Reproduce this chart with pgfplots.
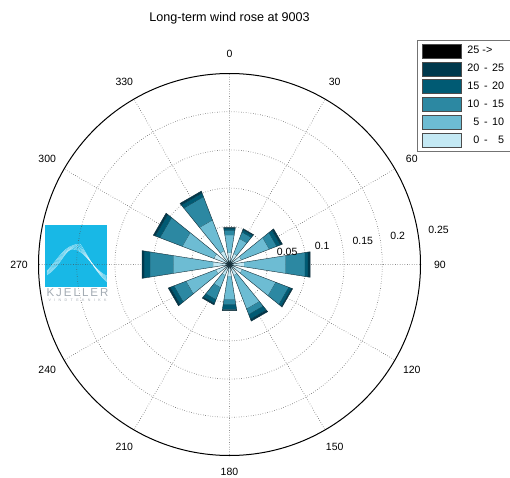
\documentclass[border=0pt]{standalone}
\usepackage{fontspec}
\setmainfont{Liberation Sans}
\usepackage{pgfplots}
\pgfplotsset{compat=1.18}
\usepgfplotslibrary{polar}
\definecolor{cA}{HTML}{000000}
\definecolor{cB}{HTML}{00394D}
\definecolor{cC}{HTML}{005A73}
\definecolor{cD}{HTML}{2C88A2}
\definecolor{cE}{HTML}{6DBCD3}
\definecolor{cF}{HTML}{C4E9F4}
\definecolor{edge}{HTML}{14303A}
\definecolor{logo}{HTML}{18B8E6}
\definecolor{logotext}{HTML}{A3ABB3}
\newcommand\lbl{\fontsize{10.5}{12}\selectfont}
\newcommand\lgsp{\hspace{0.42em}}
\begin{document}
\begin{tikzpicture}[x=1pt,y=1pt]
\useasboundingbox (0,0) rectangle (510,477);
\clip (0,0) rectangle (510,477);
% logo
\fill[logo] (45,190) rectangle (107,252);
\foreach \k in {0,2,4,6,8,10}{
  \draw[white, line width=0.35pt, opacity=0.7] (47,202+0.4*\k) .. controls (60,210+\k) and (64,226+0.6*\k) .. (72+0.8*\k,228+0.5*\k) .. controls (84,229) and (94,206) .. (107,201-0.6*\k);
}
\node[text=logotext, inner sep=0pt] at (77.5,184.5) {\fontsize{11.5}{12}\selectfont\makebox[62pt][s]{K\hfil J\hfil E\hfil L\hfil L\hfil E\hfil R}};
\node[text=logotext, inner sep=0pt] at (77.5,176.5) {\fontsize{3.6}{4}\selectfont\makebox[58pt][s]{V\hfil I\hfil N\hfil D\hfil T\hfil E\hfil K\hfil N\hfil I\hfil K\hfil K}};
% title
\node[inner sep=0pt] at (229.5,459) {\fontsize{12.6}{14}\selectfont Long-term wind rose at 9003};
\begin{polaraxis}[
  at={(229.5pt,212.5pt)}, anchor=center,
  width=382pt, height=382pt, scale only axis,
  xmin=0, xmax=360, ymin=0, ymax=0.25,
  xtick={0,30,...,330}, xticklabel=\empty,
  ytick={0.05,0.1,0.15,0.2}, yticklabel=\empty,
  major tick length=0pt,
  grid=major,
  major grid style={dotted, black!70, line width=0.7pt},
  separate axis lines,
  x axis line style={black, line width=1pt},
  y axis line style={draw=none},
  clip=false, no markers,
  unbounded coords=jump,
  legend style={at={(0.99,1.088)}, anchor=north west, draw=black!55, line width=0.6pt,
    fill=white, font=\fontsize{10.8}{12}\selectfont, row sep=3.4pt, inner xsep=5pt, inner ysep=3.5pt,
    /tikz/every odd column/.append style={column sep=4pt}},
  legend cell align=left,
  legend image code/.code={\draw[#1, draw=black!70, line width=0.5pt] (0pt,-7pt) rectangle (39pt,7pt);},
  every axis plot/.append style={draw=edge, line width=0.4pt},
]
\addlegendimage{fill=cA}\addlegendentry{25 ->}
\addlegendimage{fill=cB}\addlegendentry{20\lgsp-\lgsp25}
\addlegendimage{fill=cC}\addlegendentry{15\lgsp-\lgsp20}
\addlegendimage{fill=cD}\addlegendentry{10\lgsp-\lgsp15}
\addlegendimage{fill=cE}\addlegendentry{\phantom{0}5\lgsp-\lgsp10}
\addlegendimage{fill=cF}\addlegendentry{\phantom{0}0\lgsp-\lgsp\phantom{0}5}
% 0-5
\addplot[fill=cF, forget plot] coordinates {
(81,0) (81,0.0156) (99,0.0156) (99,0) (0,nan)
(51,0) (51,0.0156) (69,0.0156) (69,0) (0,nan)
(21,0) (21,0.0169) (39,0.0169) (39,0) (0,nan)
(351,0) (351,0.0195) (9,0.0195) (9,0) (0,nan)
(321,0) (321,0.0182) (339,0.0182) (339,0) (0,nan)
(291,0) (291,0.0156) (309,0.0156) (309,0) (0,nan)
(261,0) (261,0.0156) (279,0.0156) (279,0) (0,nan)
(231,0) (231,0.0156) (249,0.0156) (249,0) (0,nan)
(201,0) (201,0.0195) (219,0.0195) (219,0) (0,nan)
(171,0) (171,0.0221) (189,0.0221) (189,0) (0,nan)
(141,0) (141,0.0221) (159,0.0221) (159,0) (0,nan)
(111,0) (111,0.0195) (129,0.0195) (129,0)
};
% 5-10
\addplot[fill=cE, forget plot] coordinates {
(81,0.0156) (81,0.0391) (99,0.0391) (99,0.0156) (0,nan)
(51,0.0156) (51,0.0365) (69,0.0365) (69,0.0156) (0,nan)
(21,0.0169) (21,0.0560) (39,0.0560) (39,0.0169) (0,nan)
(351,0.0195) (351,0.0742) (9,0.0742) (9,0.0195) (0,nan)
(321,0.0182) (321,0.0651) (339,0.0651) (339,0.0182) (0,nan)
(291,0.0156) (291,0.0625) (309,0.0625) (309,0.0156) (0,nan)
(261,0.0156) (261,0.0469) (279,0.0469) (279,0.0156) (0,nan)
(231,0.0156) (231,0.0326) (249,0.0326) (249,0.0156) (0,nan)
(201,0.0195) (201,0.0612) (219,0.0612) (219,0.0195) (0,nan)
(171,0.0221) (171,0.0742) (189,0.0742) (189,0.0221) (0,nan)
(141,0.0221) (141,0.0664) (159,0.0664) (159,0.0221) (0,nan)
(111,0.0195) (111,0.0625) (129,0.0625) (129,0.0195)
};
% 10-15
\addplot[fill=cD, forget plot] coordinates {
(81,0.0391) (81,0.0456) (99,0.0456) (99,0.0391) (0,nan)
(51,0.0365) (51,0.0456) (69,0.0456) (69,0.0365) (0,nan)
(21,0.0560) (21,0.0664) (39,0.0664) (39,0.0560) (0,nan)
(351,0.0742) (351,0.1003) (9,0.1003) (9,0.0742) (0,nan)
(321,0.0651) (321,0.0833) (339,0.0833) (339,0.0651) (0,nan)
(291,0.0625) (291,0.0703) (309,0.0703) (309,0.0625) (0,nan)
(261,0.0469) (261,0.0534) (279,0.0534) (279,0.0469) (0,nan)
(231,0.0326) (231,0.0495) (249,0.0495) (249,0.0326) (0,nan)
(201,0.0612) (201,0.0781) (219,0.0781) (219,0.0612) (0,nan)
(171,0.0742) (171,0.1055) (189,0.1055) (189,0.0742) (0,nan)
(141,0.0664) (141,0.0977) (159,0.0977) (159,0.0664) (0,nan)
(111,0.0625) (111,0.0951) (129,0.0951) (129,0.0625)
};
% 15-20
\addplot[fill=cC, forget plot] coordinates {
(81,0.0456) (81,0.0482) (99,0.0482) (99,0.0456) (0,nan)
(51,0.0456) (51,0.0488) (69,0.0488) (69,0.0456) (0,nan)
(21,0.0664) (21,0.0716) (39,0.0716) (39,0.0664) (0,nan)
(351,0.1003) (351,0.1042) (9,0.1042) (9,0.1003) (0,nan)
(321,0.0833) (321,0.0872) (339,0.0872) (339,0.0833) (0,nan)
(291,0.0703) (291,0.0768) (309,0.0768) (309,0.0703) (0,nan)
(261,0.0534) (261,0.0599) (279,0.0599) (279,0.0534) (0,nan)
(231,0.0495) (231,0.0547) (249,0.0547) (249,0.0495) (0,nan)
(201,0.0781) (201,0.0833) (219,0.0833) (219,0.0781) (0,nan)
(171,0.1055) (171,0.1133) (189,0.1133) (189,0.1055) (0,nan)
(141,0.0977) (141,0.1042) (159,0.1042) (159,0.0977) (0,nan)
(111,0.0951) (111,0.1003) (129,0.1003) (129,0.0951)
};
% 20-25
\addplot[fill=cB, forget plot] coordinates {
(81,0.0482) (81,0.0488) (99,0.0488) (99,0.0482) (0,nan)
(51,0.0488) (51,0.0501) (69,0.0501) (69,0.0488) (0,nan)
(21,0.0716) (21,0.0742) (39,0.0742) (39,0.0716) (0,nan)
(351,0.1042) (351,0.1068) (9,0.1068) (9,0.1042) (0,nan)
(321,0.0872) (321,0.0885) (339,0.0885) (339,0.0872) (0,nan)
(291,0.0768) (291,0.0794) (309,0.0794) (309,0.0768) (0,nan)
(261,0.0599) (261,0.0612) (279,0.0612) (279,0.0599) (0,nan)
(231,0.0547) (231,0.0566) (249,0.0566) (249,0.0547) (0,nan)
(201,0.0833) (201,0.0859) (219,0.0859) (219,0.0833) (0,nan)
(171,0.1133) (171,0.1159) (189,0.1159) (189,0.1133) (0,nan)
(141,0.1042) (141,0.1068) (159,0.1068) (159,0.1042) (0,nan)
(111,0.1003) (111,0.1029) (129,0.1029) (129,0.1003)
};
% angle labels (compass)
\node[font=\lbl] at (axis cs:90,0.2755) {0};
\node[font=\lbl] at (axis cs:60,0.2755) {30};
\node[font=\lbl] at (axis cs:30,0.2755) {60};
\node[font=\lbl] at (axis cs:0,0.2755) {90};
\node[font=\lbl] at (axis cs:330,0.2755) {120};
\node[font=\lbl] at (axis cs:300,0.2755) {150};
\node[font=\lbl] at (axis cs:270,0.2715) {180};
\node[font=\lbl] at (axis cs:240,0.2755) {210};
\node[font=\lbl] at (axis cs:210,0.2755) {240};
\node[font=\lbl] at (axis cs:180,0.2755) {270};
\node[font=\lbl] at (axis cs:150,0.2755) {300};
\node[font=\lbl] at (axis cs:120,0.2755) {330};
% radial labels
\node[font=\lbl, anchor=south west, inner sep=0pt, yshift=2.5pt] at (axis cs:8,0.0625) {0.05};
\node[font=\lbl, anchor=south west, inner sep=0pt, yshift=2.5pt] at (axis cs:8,0.1125) {0.1};
\node[font=\lbl, anchor=south west, inner sep=0pt, yshift=2.5pt] at (axis cs:8,0.1625) {0.15};
\node[font=\lbl, anchor=south west, inner sep=0pt, yshift=2.5pt] at (axis cs:8,0.2125) {0.2};
\node[font=\lbl, anchor=south west, inner sep=0pt, yshift=2.5pt] at (axis cs:8,0.2625) {0.25};
\end{polaraxis}
\end{tikzpicture}
\end{document}
